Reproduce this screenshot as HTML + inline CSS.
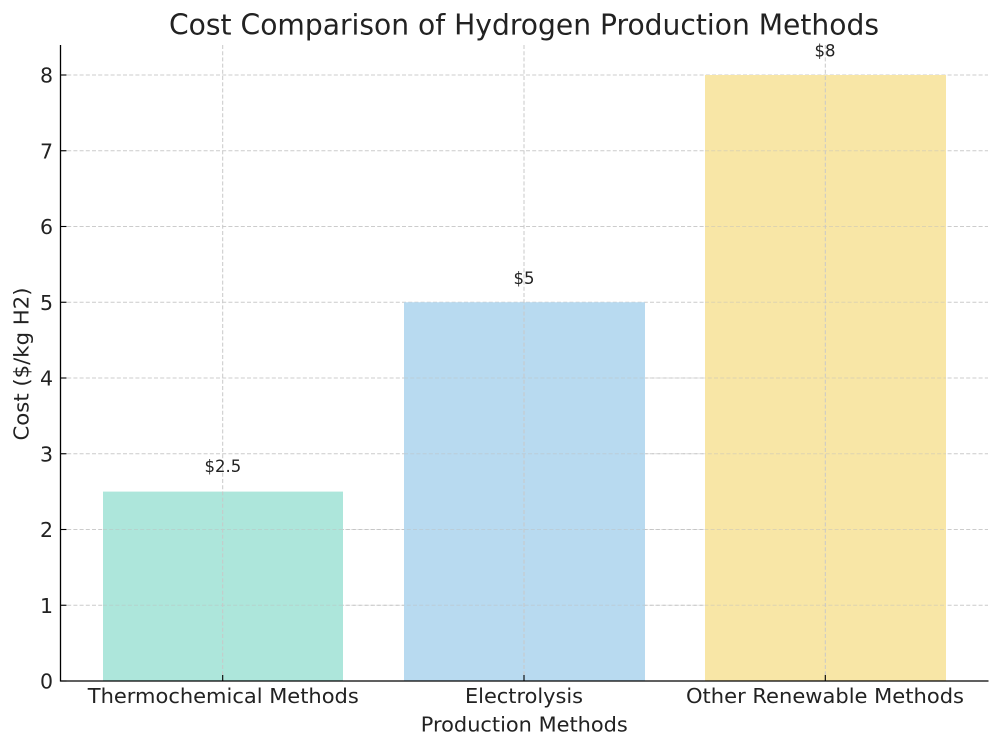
<!DOCTYPE html>
<html>
<head>
<meta charset="utf-8">
<style>
  html,body{margin:0;padding:0;background:#fff;}
  svg{display:block;}
  text{font-family:"DejaVu Sans","Liberation Sans",sans-serif;fill:#222;}
</style>
</head>
<body>
<svg width="1000" height="749" viewBox="0 0 1000 749" xmlns="http://www.w3.org/2000/svg">
  <rect x="0" y="0" width="1000" height="749" fill="#fff"/>

  <!-- horizontal grid (behind bars) -->
  <g stroke="#cccccc" stroke-width="1" stroke-dasharray="4,2.2" fill="none">
    <line x1="61" y1="605.25" x2="988" y2="605.25"/>
    <line x1="61" y1="529.5" x2="988" y2="529.5"/>
    <line x1="61" y1="453.75" x2="988" y2="453.75"/>
    <line x1="61" y1="378" x2="988" y2="378"/>
    <line x1="61" y1="302.25" x2="988" y2="302.25"/>
    <line x1="61" y1="226.5" x2="988" y2="226.5"/>
    <line x1="61" y1="150.75" x2="988" y2="150.75"/>
    <line x1="61" y1="75" x2="988" y2="75"/>
  </g>

  <!-- bars -->
  <rect x="103" y="491.6" width="240" height="189.4" fill="#ade6db"/>
  <rect x="404" y="302.25" width="241" height="378.75" fill="#b8daf0"/>
  <rect x="705" y="75" width="241" height="606" fill="#f8e6a6"/>

  <!-- grid over bars (faint) -->
  <g stroke="#bdbdbd" stroke-opacity="0.45" stroke-width="1" stroke-dasharray="4,2.2" fill="none">
    <line x1="103" y1="605.25" x2="946" y2="605.25"/>
    <line x1="103" y1="529.5" x2="946" y2="529.5"/>
    <line x1="404" y1="453.75" x2="946" y2="453.75"/>
    <line x1="404" y1="378" x2="946" y2="378"/>
    <line x1="705" y1="302.25" x2="946" y2="302.25"/>
    <line x1="705" y1="226.5" x2="946" y2="226.5"/>
    <line x1="705" y1="150.75" x2="946" y2="150.75"/>
  </g>
  <!-- vertical grid -->
  <g stroke="#c8c8c8" stroke-width="1" stroke-dasharray="4,2.2" fill="none">
    <line x1="222.7" y1="45" x2="222.7" y2="681"/>
    <line x1="524" y1="45" x2="524" y2="681"/>
    <line x1="825.3" y1="45" x2="825.3" y2="681"/>
  </g>

  <!-- spines -->
  <line x1="60.5" y1="45" x2="60.5" y2="681.5" stroke="#000" stroke-width="1.3"/>
  <line x1="60" y1="681" x2="988.5" y2="681" stroke="#000" stroke-width="1.3"/>

  <!-- ticks (inward) -->
  <g stroke="#000" stroke-width="1.1">
    <line x1="60.5" y1="681" x2="66.5" y2="681"/>
    <line x1="60.5" y1="605.25" x2="66.5" y2="605.25"/>
    <line x1="60.5" y1="529.5" x2="66.5" y2="529.5"/>
    <line x1="60.5" y1="453.75" x2="66.5" y2="453.75"/>
    <line x1="60.5" y1="378" x2="66.5" y2="378"/>
    <line x1="60.5" y1="302.25" x2="66.5" y2="302.25"/>
    <line x1="60.5" y1="226.5" x2="66.5" y2="226.5"/>
    <line x1="60.5" y1="150.75" x2="66.5" y2="150.75"/>
    <line x1="60.5" y1="75" x2="66.5" y2="75"/>
    <line x1="222.7" y1="681" x2="222.7" y2="675"/>
    <line x1="524" y1="681" x2="524" y2="675"/>
    <line x1="825.3" y1="681" x2="825.3" y2="675"/>
  </g>

  <!-- y tick labels -->
  <g font-size="20.5" text-anchor="end">
    <text x="53" y="688.5">0</text>
    <text x="53" y="612.75">1</text>
    <text x="53" y="537">2</text>
    <text x="53" y="461.25">3</text>
    <text x="53" y="385.5">4</text>
    <text x="53" y="309.75">5</text>
    <text x="53" y="234">6</text>
    <text x="53" y="158.25">7</text>
    <text x="53" y="82.5">8</text>
  </g>

  <!-- x tick labels -->
  <g font-size="20" text-anchor="middle">
    <text x="223.3" y="703" textLength="271" lengthAdjust="spacingAndGlyphs">Thermochemical Methods</text>
    <text x="524" y="703" textLength="118" lengthAdjust="spacingAndGlyphs">Electrolysis</text>
    <text x="825" y="703" textLength="278" lengthAdjust="spacingAndGlyphs">Other Renewable Methods</text>
  </g>

  <!-- axis labels -->
  <text x="524.3" y="731.5" font-size="20" text-anchor="middle" textLength="207" lengthAdjust="spacingAndGlyphs">Production Methods</text>
  <text transform="translate(28.5,364) rotate(-90)" font-size="20" text-anchor="middle" textLength="153" lengthAdjust="spacingAndGlyphs">Cost ($/kg H2)</text>

  <!-- title -->
  <text x="524" y="34.3" font-size="28.5" text-anchor="middle" textLength="710" lengthAdjust="spacingAndGlyphs">Cost Comparison of Hydrogen Production Methods</text>

  <!-- bar value labels -->
  <g font-size="16.5" text-anchor="middle" fill="#333">
    <text x="222.9" y="472">$2.5</text>
    <text x="524" y="284">$5</text>
    <text x="825" y="56.7">$8</text>
  </g>
</svg>
</body>
</html>
